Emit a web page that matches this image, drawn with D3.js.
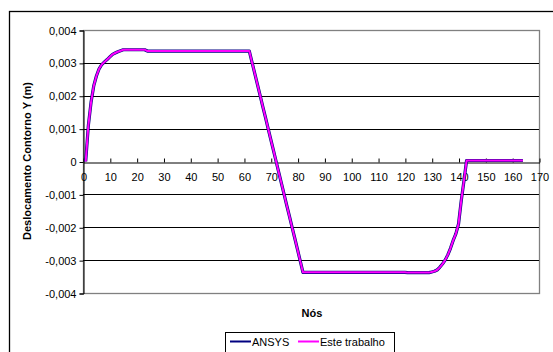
<!DOCTYPE html>
<html>
<head>
<meta charset="utf-8">
<script src="https://cdn.jsdelivr.net/npm/d3@7"></script>
<style>
  body { margin: 0; background: #fff; }
  svg { display: block; font-family: "Liberation Sans", Arial, sans-serif; }
</style>
</head>
<body>
<svg id="chart" width="553" height="352"></svg>
<script>
// --- Dados ---
const xTicks = [0, 10, 20, 30, 40, 50, 60, 70, 80, 90, 100, 110, 120, 130, 140, 150, 160, 170];
const yTicks = [-0.004, -0.003, -0.002, -0.001, 0, 0.001, 0.002, 0.003, 0.004];

// deslocamento por nó (nós 1..164)
const esteTrabalho = [
  0, 0.0011, 0.0018, 0.0023, 0.0026, 0.00282, 0.00295, 0.00303, 0.0031, 0.00318,
  0.00326, 0.0033, 0.00334, 0.00337, 0.0034, 0.0034, 0.0034, 0.0034, 0.0034, 0.0034,
  0.0034, 0.0034, 0.0034, 0.00336, 0.00336, 0.00336, 0.00336, 0.00336, 0.00336, 0.00336,
  0.00336, 0.00336, 0.00336, 0.00336, 0.00336, 0.00336, 0.00336, 0.00336, 0.00336, 0.00336,
  0.00336, 0.00336, 0.00336, 0.00336, 0.00336, 0.00336, 0.00336, 0.00336, 0.00336, 0.00336,
  0.00336, 0.00336, 0.00336, 0.00336, 0.00336, 0.00336, 0.00336, 0.00336, 0.00336, 0.00336,
  0.00336, 0.00336, 0.00302, 0.00269, 0.00235, 0.00202, 0.00168, 0.00135, 0.00101, 0.00067,
  0.00034, 0, -0.00034, -0.00067, -0.00101, -0.00135, -0.00168, -0.00202, -0.00235, -0.00269,
  -0.00303, -0.00337, -0.00337, -0.00337, -0.00337, -0.00337, -0.00337, -0.00337, -0.00337, -0.00337,
  -0.00337, -0.00337, -0.00337, -0.00337, -0.00337, -0.00337, -0.00337, -0.00337, -0.00337, -0.00337,
  -0.00337, -0.00337, -0.00337, -0.00337, -0.00337, -0.00337, -0.00337, -0.00337, -0.00337, -0.00337,
  -0.00337, -0.00337, -0.00337, -0.00337, -0.00337, -0.00337, -0.00337, -0.00337, -0.00337, -0.00337,
  -0.00338, -0.00338, -0.00338, -0.00338, -0.00338, -0.00338, -0.00338, -0.00338, -0.00338, -0.00336,
  -0.00334, -0.0033, -0.00322, -0.00312, -0.003, -0.00284, -0.00264, -0.0024, -0.0022, -0.0019,
  -0.0012, -0.0006, 0.00003, 0.00003, 0.00003, 0.00003, 0.00003, 0.00003, 0.00003, 0.00003,
  0.00003, 0.00003, 0.00003, 0.00003, 0.00003, 0.00003, 0.00003, 0.00003, 0.00003, 0.00003,
  0.00003, 0.00003, 0.00003, 0.00003
];
// ANSYS praticamente coincide com a solução deste trabalho
const ansys = esteTrabalho.slice();

const series = [
  { name: "ANSYS", color: "#000080", values: ansys, width: 3.2 },
  { name: "Este trabalho", color: "#ff00ff", values: esteTrabalho, width: 2 }
];

// --- Layout ---
const svg = d3.select("#chart");
const plot = { left: 83, top: 30, right: 539, bottom: 293 };

const x = d3.scaleLinear().domain([0, 170]).range([plot.left, plot.right]);
const y = d3.scaleLinear().domain([-0.004, 0.004]).range([plot.bottom, plot.top]);
const fmt = v => v === 0 ? "0" : d3.format(".3f")(v).replace(".", ",").replace("−", "-");

// moldura externa (cortada à direita e embaixo)
svg.append("rect")
  .attr("x", 9.5).attr("y", 11.5)
  .attr("width", 560).attr("height", 360)
  .attr("fill", "none").attr("stroke", "#000").attr("stroke-width", 1.3);

// borda da área de plotagem
svg.append("rect")
  .attr("x", plot.left + 0.5).attr("y", plot.top + 0.5)
  .attr("width", plot.right - plot.left).attr("height", plot.bottom - plot.top)
  .attr("fill", "none").attr("stroke", "#808080").attr("stroke-width", 1.3);

// linhas de grade
svg.append("g")
  .selectAll("line")
  .data(yTicks.filter(v => v !== 0 && Math.abs(v) < 0.004))
  .enter().append("line")
  .attr("x1", plot.left).attr("x2", plot.right)
  .attr("y1", d => Math.round(y(d)) + 0.5).attr("y2", d => Math.round(y(d)) + 0.5)
  .attr("stroke", "#000").attr("stroke-width", 1);

// eixo Y
const yAxis = svg.append("g")
  .attr("transform", `translate(${plot.left + 0.5},0.5)`)
  .call(d3.axisLeft(y).tickValues(yTicks).tickSize(4).tickPadding(3).tickFormat(fmt));
yAxis.select(".domain").attr("stroke", "#000");
yAxis.selectAll("text").style("font-size", "11px").attr("fill", "#000");

// eixo X (em y = 0)
const xAxis = svg.append("g")
  .attr("transform", `translate(0.5,${Math.round(y(0)) + 0.5})`)
  .call(d3.axisBottom(x).tickValues(xTicks).tickSize(0).tickPadding(11).tickFormat(d3.format("d")));
xAxis.select(".domain").attr("stroke", "#000");
xAxis.selectAll(".tick").append("line")
  .attr("y1", -4).attr("y2", 0).attr("stroke", "#000");
xAxis.selectAll("text").style("font-size", "11px").attr("fill", "#000");

// séries
const line = d3.line()
  .x((d, i) => x(i + 1))
  .y(d => y(d));
series.forEach(s => {
  svg.append("path")
    .datum(s.values)
    .attr("fill", "none")
    .attr("stroke", s.color)
    .attr("stroke-width", s.width)
    .attr("stroke-linejoin", "round")
    .attr("d", line);
});

// títulos dos eixos
svg.append("text")
  .attr("transform", "translate(31,161) rotate(-90)")
  .attr("text-anchor", "middle")
  .style("font-size", "11px").style("font-weight", "bold")
  .text("Deslocamento Contorno Y (m)");

svg.append("text")
  .attr("x", 312).attr("y", 317)
  .attr("text-anchor", "middle")
  .style("font-size", "11px").style("font-weight", "bold")
  .text("Nós");

// legenda
const legend = svg.append("g");
legend.append("rect")
  .attr("x", 225.5).attr("y", 332.5)
  .attr("width", 169).attr("height", 30)
  .attr("fill", "#fff").attr("stroke", "#000").attr("stroke-width", 1);
const legendItems = [
  { name: "ANSYS", color: "#000080", x0: 230 },
  { name: "Este trabalho", color: "#ff00ff", x0: 298 }
];
legendItems.forEach(it => {
  legend.append("line")
    .attr("x1", it.x0).attr("x2", it.x0 + 21)
    .attr("y1", 341.5).attr("y2", 341.5)
    .attr("stroke", it.color).attr("stroke-width", 2);
  legend.append("text")
    .attr("x", it.x0 + 22).attr("y", 345.5)
    .style("font-size", "11px")
    .text(it.name);
});
</script>
</body>
</html>
